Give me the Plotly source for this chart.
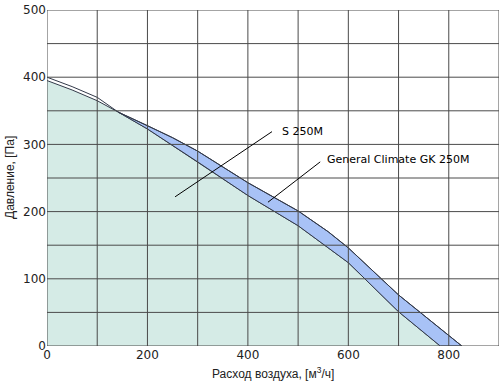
import plotly.graph_objects as go

# Upper curve (General Climate GK 250M) – flow [m3/h], pressure [Pa]
gk_flow = [0, 50, 100, 142, 200, 250, 300, 400, 500, 560, 600, 700, 826]
gk_pres = [400, 386, 370, 348, 328, 310, 290, 243, 201, 170, 146, 76, 0]

# Lower curve (S 250M)
s_flow = [0, 50, 100, 142, 200, 300, 400, 500, 600, 700, 783]
s_pres = [395, 381, 365, 348, 323, 274, 224, 179, 124, 51, 0]

x_ticks = [0, 200, 400, 600, 800]
y_ticks = [0, 100, 200, 300, 400, 500]
x_grid = [0, 100, 200, 300, 400, 500, 600, 700, 800, 900]
y_grid = [0, 50, 100, 150, 200, 250, 300, 350, 400, 450, 500]

labels = ["S 250M", "General Climate GK 250M"]
label_pos = [(464, 319), (554, 277)]
leader_lines = [((255, 222), (448, 319)), ((440, 214), (544, 274))]

GREEN = "#d5ebe6"
BLUE = "#a8c2f6"
LINE = "#333a4a"
GRID = "#4a4a4a"

fig = go.Figure()

# green area under S 250M
fig.add_trace(go.Scatter(x=s_flow, y=s_pres, mode="lines", fill="tozeroy",
                         fillcolor=GREEN, line=dict(color=LINE, width=1),
                         hoverinfo="skip", showlegend=False))

# blue band between curves where GK is above S
start = s_flow.index(142)
g_start = gk_flow.index(142)
band_x = gk_flow[g_start:] + s_flow[start:][::-1]
band_y = gk_pres[g_start:] + s_pres[start:][::-1]
fig.add_trace(go.Scatter(x=band_x, y=band_y, mode="lines", fill="toself",
                         fillcolor=BLUE, line=dict(color=LINE, width=1),
                         hoverinfo="skip", showlegend=False))

# GK line full
fig.add_trace(go.Scatter(x=gk_flow, y=gk_pres, mode="lines",
                         line=dict(color=LINE, width=1),
                         hoverinfo="skip", showlegend=False))

# grid drawn above the fills
for gx in x_grid:
    fig.add_shape(type="line", x0=gx, x1=gx, y0=0, y1=1, xref="x", yref="paper",
                  line=dict(color=GRID, width=1), layer="above")
for gy in y_grid:
    fig.add_shape(type="line", x0=0, x1=1, y0=gy, y1=gy, xref="paper", yref="y",
                  line=dict(color=GRID, width=1), layer="above")

for (p0, p1) in leader_lines:
    fig.add_shape(type="line", x0=p0[0], y0=p0[1], x1=p1[0], y1=p1[1],
                  xref="x", yref="y", line=dict(color="black", width=1), layer="above")

for txt, (lx, ly) in zip(labels, label_pos):
    fig.add_annotation(x=lx, y=ly, text=txt, showarrow=False, xanchor="left",
                       yanchor="middle", font=dict(family="DejaVu Sans", size=11, color="black"))

# axis titles
fig.add_annotation(x=0.5, y=0, xref="paper", yref="paper", yshift=-27, showarrow=False,
                   text="Расход воздуха, [м<sup>3</sup>/ч]", yanchor="middle",
                   font=dict(family="Liberation Sans", size=12, color="#222"))
fig.add_annotation(x=0, y=0.5, xref="paper", yref="paper", xshift=-37, showarrow=False,
                   text="Давление, [Па]", textangle=-90, xanchor="center",
                   font=dict(family="Liberation Sans", size=12, color="#222"))

fig.update_xaxes(range=[0, 900], tickvals=x_ticks, showgrid=False, automargin=False,
                 showline=False, zeroline=False, ticks="", ticklen=0,
                 tickfont=dict(family="DejaVu Sans", size=12, color="#222"))
fig.update_yaxes(range=[0, 500], tickvals=y_ticks, showgrid=False, automargin=False,
                 showline=False, zeroline=False, ticks="", ticklen=0,
                 tickfont=dict(family="DejaVu Sans", size=12, color="#222"))

fig.update_layout(width=500, height=382, margin=dict(l=47, r=1, t=10, b=36),
                  plot_bgcolor="white", paper_bgcolor="white")

fig.write_html("out.html", config={"displayModeBar": False},
               post_script="document.body.style.margin='0';document.body.style.overflow='hidden';")
